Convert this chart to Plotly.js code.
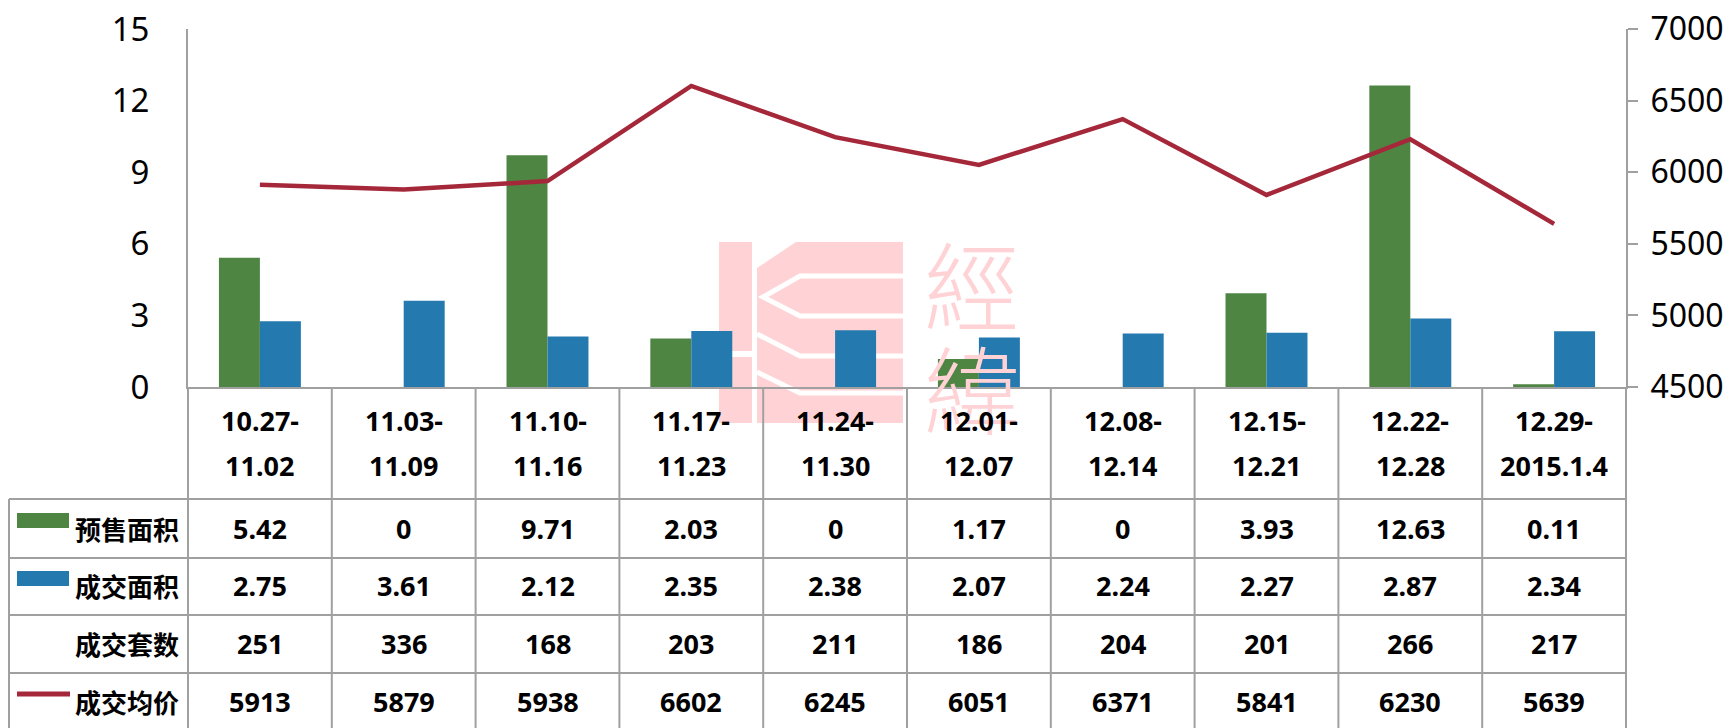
<!DOCTYPE html>
<html>
<head>
<meta charset="utf-8">
<script src="https://cdn.plot.ly/plotly-3.0.1.min.js"></script>
<style>html,body{margin:0;padding:0;background:#fff;}#chart{width:1735px;height:728px;}</style>
</head>
<body>
<div id="chart"></div>
<script>
// ---- data ----
const categories = ['10.27-11.02','11.03-11.09','11.10-11.16','11.17-11.23','11.24-11.30','12.01-12.07','12.08-12.14','12.15-12.21','12.22-12.28','12.29-2015.1.4'];
const presaleArea = [5.42, 0, 9.71, 2.03, 0, 1.17, 0, 3.93, 12.63, 0.11];
const dealArea    = [2.75, 3.61, 2.12, 2.35, 2.38, 2.07, 2.24, 2.27, 2.87, 2.34];
const dealCount   = [251, 336, 168, 203, 211, 186, 204, 201, 266, 217];
const avgPrice    = [5913, 5879, 5938, 6602, 6245, 6051, 6371, 5841, 6230, 5639];
const seriesNames = ['预售面积', '成交面积', '成交套数', '成交均价'];
const leftTicks  = [0, 3, 6, 9, 12, 15];
const rightTicks = [4500, 5000, 5500, 6000, 6500, 7000];

// ---- styling ----
const GREEN = '#4F8542', BLUE = '#2479AE', RED = '#A5283A', GRID = '#A0A0A0';
const W = 1735, H = 728;
const L = 188, R = 1626, T = 29, B = 387;
const FONT = 'Noto Sans, Noto Sans CJK SC, sans-serif';
const px = X => (X - L) / (R - L);
const py = Y => (B - Y) / (B - T);

const traces = [
  {type: 'bar', name: seriesNames[0], x: categories, y: presaleArea, marker: {color: GREEN, line: {width: 0}}, yaxis: 'y', hoverinfo: 'y'},
  {type: 'bar', name: seriesNames[1], x: categories, y: dealArea, marker: {color: BLUE, line: {width: 0}}, yaxis: 'y', hoverinfo: 'y'},
  {type: 'scatter', mode: 'lines', name: seriesNames[3], x: categories, y: avgPrice, yaxis: 'y2', line: {color: RED, width: 4.5}, hoverinfo: 'y'}
];

const shapes = [];
const annotations = [];
const n = categories.length;

// watermark (decoration)
const WM = '#FFD3D5';
function pathOf(pts, close) {
  return pts.map((p, i) => (i ? 'L' : 'M') + px(p[0]).toFixed(5) + ',' + py(p[1]).toFixed(5)).join(' ') + (close ? ' Z' : '');
}
shapes.push({type: 'path', layer: 'below', xref: 'paper', yref: 'paper', path: pathOf([[719,242],[752,242],[752,351],[719,351]], true), fillcolor: WM, line: {width: 0}});
shapes.push({type: 'path', layer: 'below', xref: 'paper', yref: 'paper', path: pathOf([[719,357],[752,357],[752,423],[719,423]], true), fillcolor: WM, line: {width: 0}});
shapes.push({type: 'path', layer: 'below', xref: 'paper', yref: 'paper', path: pathOf([[757,268],[796,242],[903,242],[903,423],[757,423]], true), fillcolor: WM, line: {width: 0}});
shapes.push({type: 'path', layer: 'below', xref: 'paper', yref: 'paper', path: pathOf([[904,276],[800,276],[763,297],[800,316],[904,316]], false), line: {color: '#fff', width: 5}});
shapes.push({type: 'path', layer: 'below', xref: 'paper', yref: 'paper', path: pathOf([[757,334],[800,356],[904,356]], false), line: {color: '#fff', width: 5}});
shapes.push({type: 'path', layer: 'below', xref: 'paper', yref: 'paper', path: pathOf([[757,372],[800,393],[904,393]], false), line: {color: '#fff', width: 5}});
annotations.push({xref: 'paper', yref: 'paper', x: px(972), y: py(281), text: '經', showarrow: false, font: {family: 'Noto Sans CJK TC', size: 96, color: WM, weight: 200}, xanchor: 'center', yanchor: 'middle'});
annotations.push({xref: 'paper', yref: 'paper', x: px(972), y: py(385), text: '緯', showarrow: false, font: {family: 'Noto Sans CJK TC', size: 96, color: WM, weight: 200}, xanchor: 'center', yanchor: 'middle'});

// ---- data table under the chart ----
const rowLines = [499, 558, 615, 673];
const bottomY = 740;
rowLines.forEach(Y => shapes.push({type: 'line', xref: 'paper', yref: 'paper', x0: px(9), x1: 1, y0: py(Y), y1: py(Y), line: {color: GRID, width: 2}}));
shapes.push({type: 'line', xref: 'paper', yref: 'paper', x0: px(9), x1: px(9), y0: py(499), y1: py(bottomY), line: {color: GRID, width: 2}});
for (let k = 0; k <= n; k++) {
  shapes.push({type: 'line', xref: 'paper', yref: 'paper', x0: k / n, x1: k / n, y0: 0, y1: py(bottomY), line: {color: GRID, width: 2}});
}

const cellFont = {family: FONT, size: 27, color: '#000', weight: 'bold'};
categories.forEach((c, i) => {
  const cut = c.indexOf('-') + 1;
  annotations.push({xref: 'x', yref: 'paper', x: c, y: py(420), text: c.slice(0, cut), showarrow: false, font: cellFont, xanchor: 'center', yanchor: 'middle'});
  annotations.push({xref: 'x', yref: 'paper', x: c, y: py(465), text: c.slice(cut), showarrow: false, font: cellFont, xanchor: 'center', yanchor: 'middle'});
});
const rows = [presaleArea, dealArea, dealCount, avgPrice];
const rowCenters = [528, 585, 643, 701];
rows.forEach((vals, r) => {
  vals.forEach((v, i) => {
    annotations.push({xref: 'x', yref: 'paper', x: categories[i], y: py(rowCenters[r]), text: String(v), showarrow: false, font: cellFont, xanchor: 'center', yanchor: 'middle'});
  });
  annotations.push({xref: 'paper', yref: 'paper', x: px(181), y: py(rowCenters[r]), text: seriesNames[r], showarrow: false, font: {family: 'Noto Sans CJK SC', size: 26, color: '#000', weight: 'bold'}, xanchor: 'right', yanchor: 'middle'});
});
// legend keys
shapes.push({type: 'rect', xref: 'paper', yref: 'paper', x0: px(17), x1: px(69), y0: py(513), y1: py(528), fillcolor: GREEN, line: {width: 0}});
shapes.push({type: 'rect', xref: 'paper', yref: 'paper', x0: px(17), x1: px(69), y0: py(571), y1: py(586), fillcolor: BLUE, line: {width: 0}});
shapes.push({type: 'line', xref: 'paper', yref: 'paper', x0: px(17), x1: px(70), y0: py(694), y1: py(694), line: {color: RED, width: 5}});

const layout = {
  width: W, height: H,
  margin: {l: L, r: W - R, t: T, b: H - B, pad: 0},
  paper_bgcolor: '#fff', plot_bgcolor: 'rgba(0,0,0,0)',
  showlegend: false,
  barmode: 'group', bargap: 0.43, bargroupgap: 0,
  font: {family: FONT, color: '#000'},
  xaxis: {type: 'category', categoryarray: categories, range: [-0.5, n - 0.5], showticklabels: false, ticks: '', showgrid: false, zeroline: false, showline: true, linecolor: GRID, linewidth: 2, fixedrange: true},
  yaxis: {range: [0, 15], tickvals: leftTicks, ticktext: leftTicks.map(String), showgrid: false, zeroline: false, showline: true, linecolor: GRID, linewidth: 2, ticks: '', tickfont: {family: FONT, size: 33, color: '#000'}, ticklabelstandoff: 30, fixedrange: true},
  yaxis2: {range: [4500, 7000], tickvals: rightTicks, ticktext: rightTicks.map(String), overlaying: 'y', side: 'right', showgrid: false, zeroline: false, showline: true, linecolor: GRID, linewidth: 2, ticks: 'outside', ticklen: 10, tickwidth: 2, tickcolor: GRID, tickfont: {family: FONT, size: 32, color: '#000'}, ticklabelstandoff: 6, fixedrange: true},
  shapes: shapes,
  annotations: annotations
};

Plotly.newPlot('chart', traces, layout, {displayModeBar: false, staticPlot: true});
</script>
</body>
</html>
